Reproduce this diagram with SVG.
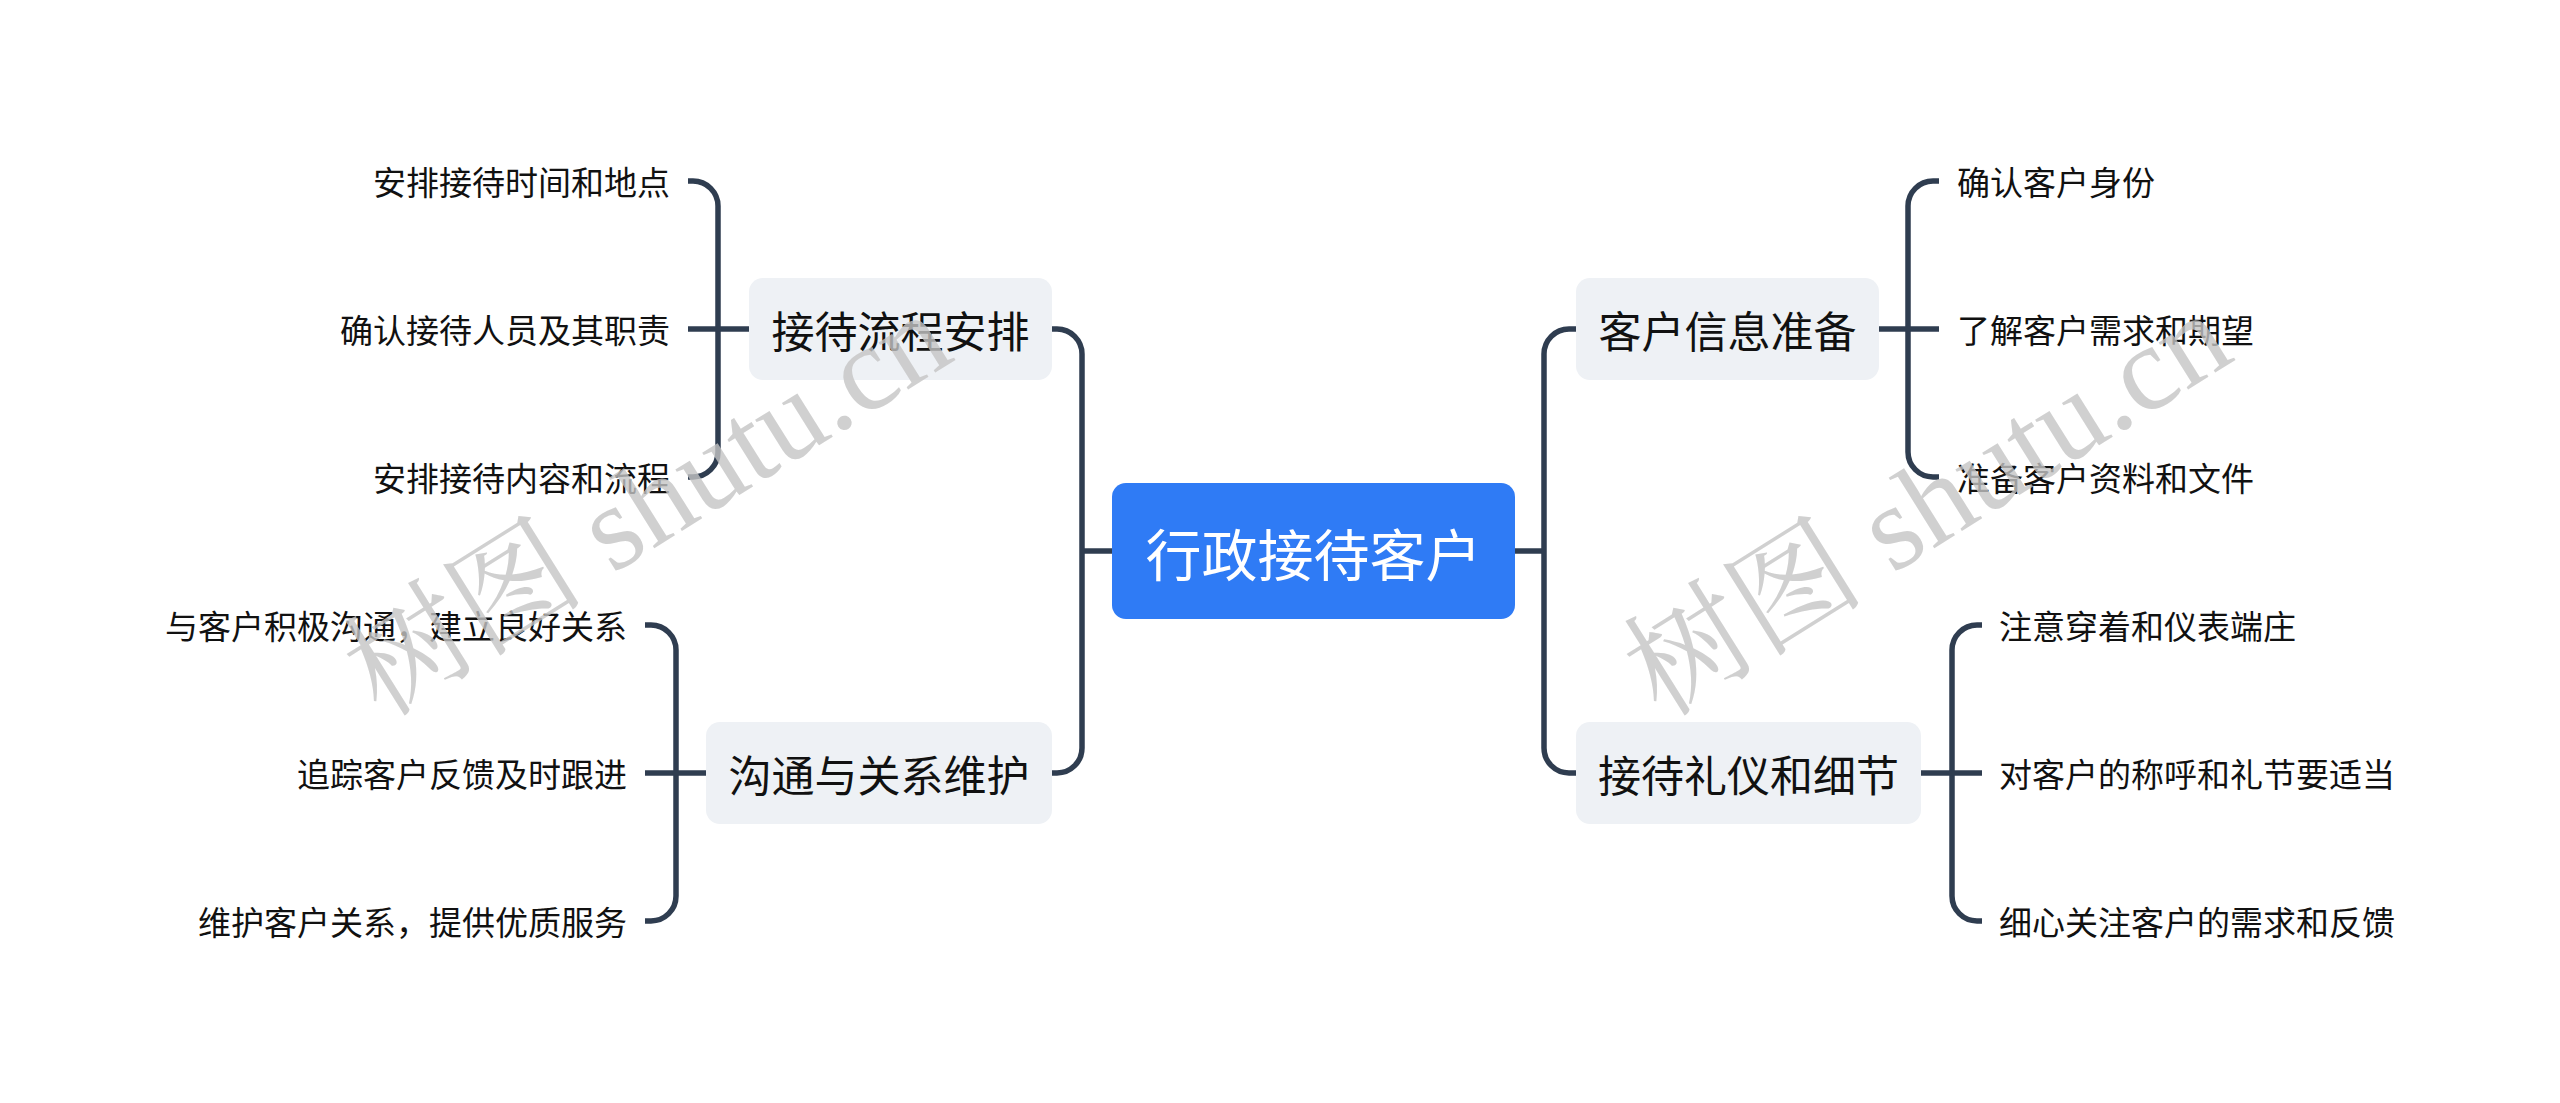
<svg xmlns="http://www.w3.org/2000/svg" width="2560" height="1103" viewBox="0 0 2560 1103">
<style>
.bg{fill:#ffffff}
.root rect{fill:#2f7bf5}
.root text{fill:#ffffff;font-size:56px}
.branch rect{fill:#eef1f5}
.branch text{fill:#111111;font-size:43px}
.leaf text{fill:#111111;font-size:33px}
text{font-family:"Noto Sans CJK SC","Noto Sans",sans-serif;dominant-baseline:central}
.conn path{fill:none;stroke:#2f3d50;stroke-width:5.5;stroke-linecap:butt}
.wm{font-family:"Liberation Serif","Noto Serif CJK SC","Noto Sans CJK SC",serif;font-size:121px;fill:#c4c4c4;fill-opacity:0.8;dominant-baseline:auto}
</style>
<rect class="bg" x="0" y="0" width="2560" height="1103"/>
<g id="connectors" class="conn">
<path d="M1112,551 H1082"/>
<path d="M1052,329 H1057 A25,25 0 0 1 1082,354 V748 A25,25 0 0 1 1057,773 H1052"/>
<path d="M1515,551 H1544"/>
<path d="M1576,329 H1569 A25,25 0 0 0 1544,354 V748 A25,25 0 0 0 1569,773 H1576"/>
<path d="M688,181 H693 A25,25 0 0 1 718,206 V452 A25,25 0 0 1 693,477 H688"/>
<path d="M688,329 H749"/>
<path d="M645,625 H651 A25,25 0 0 1 676,650 V896 A25,25 0 0 1 651,921 H645"/>
<path d="M645,773 H706"/>
<path d="M1939,181 H1933 A25,25 0 0 0 1908,206 V452 A25,25 0 0 0 1933,477 H1939"/>
<path d="M1878,329 H1939"/>
<path d="M1982,625 H1977 A25,25 0 0 0 1952,650 V896 A25,25 0 0 0 1977,921 H1982"/>
<path d="M1921,773 H1982"/>
</g>
<g id="root" class="root">
<rect x="1112" y="483" width="403" height="136" rx="14"/>
<text x="1313.5" y="551" text-anchor="middle">行政接待客户</text>
</g>
<g id="b1" class="branch">
<rect x="749" y="278" width="303" height="102" rx="14"/>
<text x="900.5" y="329" text-anchor="middle">接待流程安排</text>
</g>
<g id="b2" class="branch">
<rect x="706" y="722" width="346" height="102" rx="14"/>
<text x="879" y="773" text-anchor="middle">沟通与关系维护</text>
</g>
<g id="b3" class="branch">
<rect x="1576" y="278" width="303" height="102" rx="14"/>
<text x="1727.5" y="329" text-anchor="middle">客户信息准备</text>
</g>
<g id="b4" class="branch">
<rect x="1576" y="722" width="345" height="102" rx="14"/>
<text x="1748.5" y="773" text-anchor="middle">接待礼仪和细节</text>
</g>
<g id="l1" class="leaf"><text x="670" y="181" text-anchor="end">安排接待时间和地点</text></g>
<g id="l2" class="leaf"><text x="670" y="329" text-anchor="end">确认接待人员及其职责</text></g>
<g id="l3" class="leaf"><text x="670" y="477" text-anchor="end">安排接待内容和流程</text></g>
<g id="l4" class="leaf"><text x="627" y="625" text-anchor="end">与客户积极沟通，建立良好关系</text></g>
<g id="l5" class="leaf"><text x="627" y="773" text-anchor="end">追踪客户反馈及时跟进</text></g>
<g id="l6" class="leaf"><text x="627" y="921" text-anchor="end">维护客户关系，提供优质服务</text></g>
<g id="r1" class="leaf"><text x="1957" y="181">确认客户身份</text></g>
<g id="r2" class="leaf"><text x="1957" y="329">了解客户需求和期望</text></g>
<g id="r3" class="leaf"><text x="1957" y="477">准备客户资料和文件</text></g>
<g id="r4" class="leaf"><text x="1999" y="625">注意穿着和仪表端庄</text></g>
<g id="r5" class="leaf"><text x="1999" y="773">对客户的称呼和礼节要适当</text></g>
<g id="r6" class="leaf"><text x="1999" y="921">细心关注客户的需求和反馈</text></g>
<text class="wm" x="648" y="545" text-anchor="middle" transform="rotate(-32 648 505)">树图 shutu.cn</text>
<text class="wm" x="1928" y="545" text-anchor="middle" transform="rotate(-32 1928 505)">树图 shutu.cn</text>
</svg>
